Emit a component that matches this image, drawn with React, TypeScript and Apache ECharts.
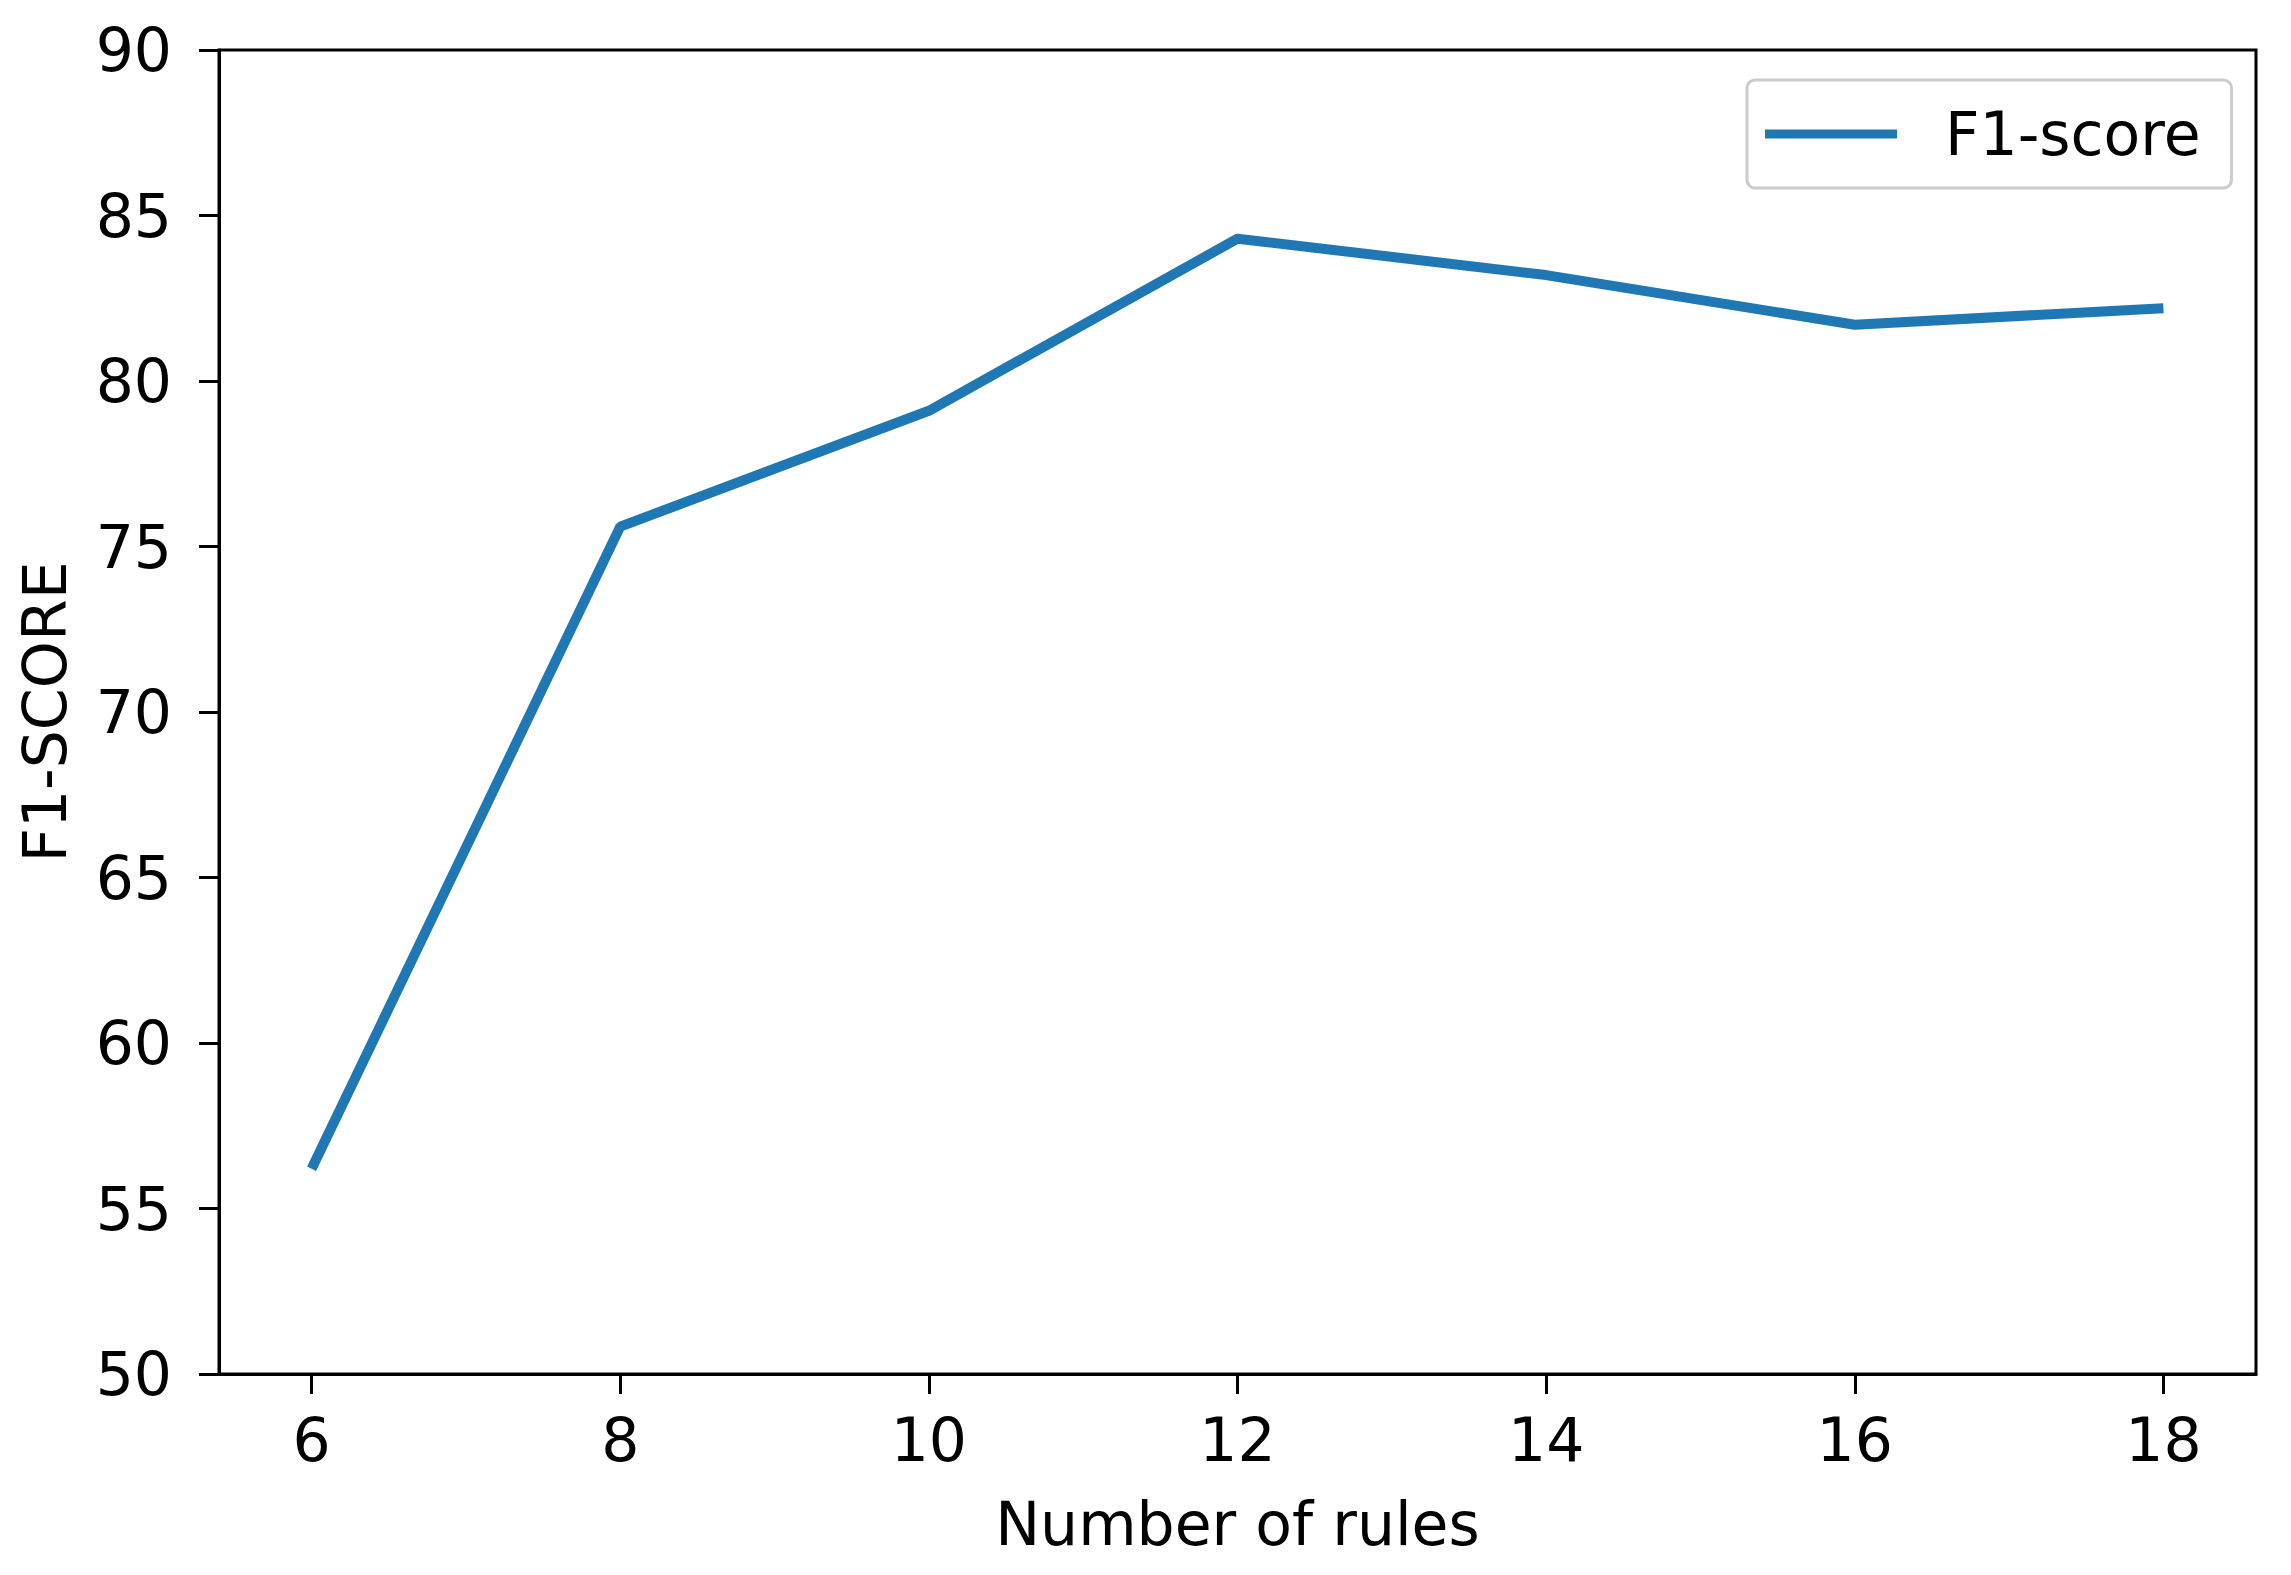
import React, { useEffect, useRef } from "react";
import * as echarts from "echarts";

const rules = [6, 8, 10, 12, 14, 16, 18];
const f1Scores = [56.2, 75.6, 79.1, 84.3, 83.2, 81.7, 82.2];
const xTicks = [6, 8, 10, 12, 14, 16, 18];
const seriesName = "F1-score";
const xName = "Number of rules";
const yName = "F1-SCORE";

const FONT = "DejaVu Sans";

export default function App() {
  const ref = useRef<HTMLDivElement>(null);
  useEffect(() => {
    if (!ref.current) return;
    const chart = echarts.init(ref.current, undefined, { renderer: "svg" });
    chart.setOption({
      animation: false,
      backgroundColor: "#ffffff",
      grid: {
        left: 219,
        top: 50,
        width: 2037,
        height: 1324,
        show: true,
        borderColor: "#000000",
        borderWidth: 3,
        backgroundColor: "transparent",
      },
      legend: {
        show: true,
        left: 1747,
        top: 80,
        orient: "horizontal",
        icon: "rect",
        itemWidth: 132,
        itemHeight: 9,
        padding: [24, 31, 24, 18],
        backgroundColor: "rgba(255,255,255,0.8)",
        borderColor: "#cccccc",
        borderWidth: 3,
        borderRadius: 8,
        textStyle: {
          fontFamily: FONT,
          fontSize: 60,
          color: "#000000",
          padding: [0, 0, 0, 43],
        },
        data: [seriesName],
      },
      xAxis: {
        type: "value",
        min: 5.4,
        max: 18.6,
        name: xName,
        nameLocation: "middle",
        nameGap: 120,
        nameTextStyle: { fontFamily: FONT, fontSize: 60, color: "#000000" },
        axisLine: { show: true, lineStyle: { color: "#000000", width: 3 } },
        axisTick: {
          show: true,
          inside: false,
          length: 20,
          lineStyle: { color: "#000000", width: 3 },
          customValues: xTicks,
        },
        axisLabel: {
          show: true,
          margin: 36,
          fontFamily: FONT,
          fontSize: 60,
          color: "#000000",
          customValues: xTicks,
          showMinLabel: true,
          showMaxLabel: true,
        },
        splitLine: { show: false },
      },
      yAxis: {
        type: "value",
        min: 50,
        max: 90,
        interval: 5,
        name: yName,
        nameLocation: "middle",
        nameRotate: 90,
        nameGap: 144,
        nameTextStyle: { fontFamily: FONT, fontSize: 60, color: "#000000" },
        axisLine: { show: true, lineStyle: { color: "#000000", width: 3 } },
        axisTick: {
          show: true,
          inside: false,
          length: 20,
          lineStyle: { color: "#000000", width: 3 },
        },
        axisLabel: {
          show: true,
          margin: 47,
          fontFamily: FONT,
          fontSize: 60,
          color: "#000000",
        },
        splitLine: { show: false },
      },
      series: [
        {
          name: seriesName,
          type: "line",
          data: rules.map((r, i) => [r, f1Scores[i]]),
          symbol: "none",
          lineStyle: { color: "#1f77b4", width: 10 },
          itemStyle: { color: "#1f77b4" },
        },
      ],
    });
    return () => chart.dispose();
  }, []);
  return (
    <div
      ref={ref}
      style={{ position: "fixed", left: 0, top: 0, width: 2291, height: 1575, background: "#ffffff" }}
    />
  );
}
